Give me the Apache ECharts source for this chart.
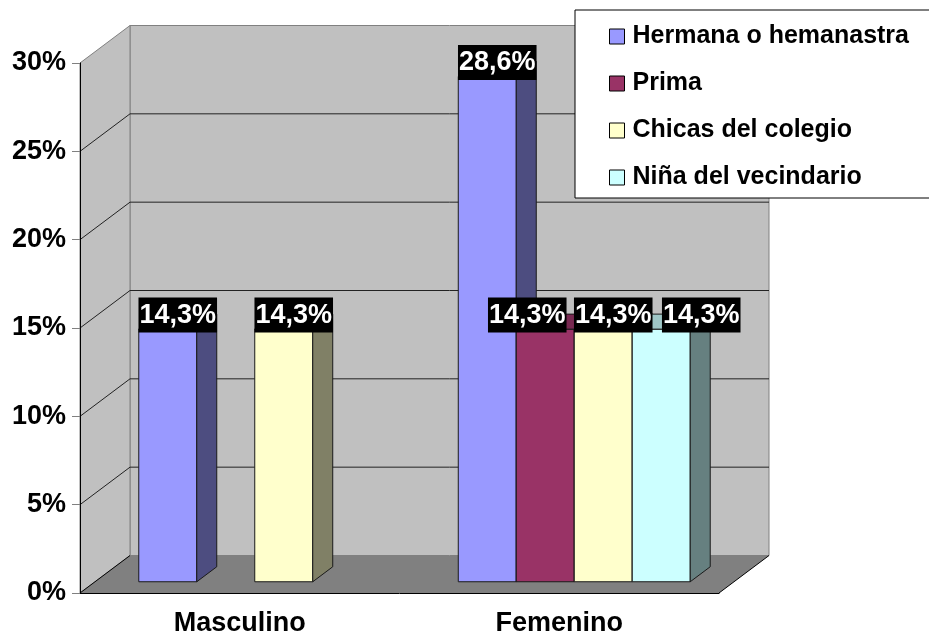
<!DOCTYPE html>
<html>
<head>
<meta charset="utf-8">
<script src="https://cdn.jsdelivr.net/npm/echarts@6/dist/echarts.min.js"></script>
<style>
html, body { margin: 0; padding: 0; background: #fff; }
#chart { width: 929px; height: 637px; }
</style>
</head>
<body>
<div id="chart"></div>
<script>
// data
const categories = ['Masculino', 'Femenino'];
const seriesNames = ['Hermana o hemanastra', 'Prima', 'Chicas del colegio', 'Niña del vecindario'];
const hermana = [14.3, 28.6];
const prima = [null, 14.3];
const chicas = [14.3, 14.3];
const nina = [null, 14.3];
const yTicks = [0, 5, 10, 15, 20, 25, 30];

const seriesValues = [hermana, prima, chicas, nina];
const colors = ['#9999FF', '#993366', '#FFFFCC', '#CCFFFF'];
const FONT = '"Liberation Sans", Arial, sans-serif';

// fake 3d: how far the back wall sits behind the axes (px)
const DEPTH_X = 50, DEPTH_Y = -37.5;
const BAR_D0 = 0.3, BAR_D1 = 0.7;   // bars in the middle of the depth
const BAR_FRAC = 0.1815;            // one bar, as share of the category band
// excel pushed a couple of labels sideways so they don't overlap
const labelNudge = { '1,1': -28, '3,1': 30 };

function shade(hex, k) {
  const n = parseInt(hex.slice(1), 16);
  const r = Math.round(((n >> 16) & 255) * k), g = Math.round(((n >> 8) & 255) * k), b = Math.round((n & 255) * k);
  return 'rgb(' + r + ',' + g + ',' + b + ')';
}

function fmt(v) {
  return v.toFixed(1).replace('.', ',') + '%';
}

function barGeom(si, api) {
  const ci = api.value(0), v = api.value(1);
  const base = api.coord([ci, 0]);
  const top = api.coord([ci, v]);
  const bw = api.size([1, 0])[0] * BAR_FRAC;
  const left = base[0] - 2 * bw + si * bw + DEPTH_X * BAR_D0;
  return {
    v, ci, left, bw,
    right: left + bw,
    yb: base[1] + DEPTH_Y * BAR_D0,
    yt: top[1] + DEPTH_Y * BAR_D0,
    ddx: DEPTH_X * (BAR_D1 - BAR_D0),
    ddy: DEPTH_Y * (BAR_D1 - BAR_D0)
  };
}

function renderBar(si) {
  return function (params, api) {
    const g = barGeom(si, api);
    if (isNaN(g.v)) return;
    const c = colors[si];
    const edge = { stroke: '#1a1a1a', lineWidth: 1 };
    return {
      type: 'group',
      children: [
        { type: 'rect', shape: { x: g.left, y: g.yt, width: g.bw, height: g.yb - g.yt },
          style: Object.assign({ fill: c }, edge) },
        { type: 'polygon', shape: { points: [[g.right, g.yb], [g.right + g.ddx, g.yb + g.ddy], [g.right + g.ddx, g.yt + g.ddy], [g.right, g.yt]] },
          style: Object.assign({ fill: shade(c, 0.5) }, edge) },
        { type: 'polygon', shape: { points: [[g.left, g.yt], [g.right, g.yt], [g.right + g.ddx, g.yt + g.ddy], [g.left + g.ddx, g.yt + g.ddy]] },
          style: Object.assign({ fill: shade(c, 0.78) }, edge) }
      ]
    };
  };
}

function renderLabel(si) {
  return function (params, api) {
    const g = barGeom(si, api);
    if (isNaN(g.v)) return;
    const nudge = labelNudge[si + ',' + g.ci] || 0;
    return {
      type: 'text',
      style: {
        text: fmt(g.v),
        x: g.left + (g.bw + g.ddx) / 2 + nudge,
        y: g.yt - 14,
        align: 'center',
        verticalAlign: 'middle',
        fill: '#fff',
        font: 'bold 27px ' + FONT,
        lineHeight: 33,
        backgroundColor: '#000',
        padding: [1, 1, 1, 1]
      }
    };
  };
}

function renderWalls(params, api) {
  const cs = params.coordSys;
  const x0 = cs.x, x1 = cs.x + cs.width;
  const y0 = api.coord([0, 0])[1], yTop = api.coord([0, yTicks[yTicks.length - 1]])[1];
  const bx0 = x0 + DEPTH_X, bx1 = x1 + DEPTH_X;
  const children = [
    { type: 'rect', shape: { x: bx0, y: yTop + DEPTH_Y, width: bx1 - bx0, height: y0 - yTop },
      style: { fill: '#C0C0C0', stroke: '#808080', lineWidth: 1 } },
    { type: 'polygon', shape: { points: [[x0, y0], [bx0, y0 + DEPTH_Y], [bx0, yTop + DEPTH_Y], [x0, yTop]] },
      style: { fill: '#C0C0C0', stroke: '#808080', lineWidth: 1 } },
    { type: 'polygon', shape: { points: [[x0, y0], [x1, y0], [bx1, y0 + DEPTH_Y], [bx0, y0 + DEPTH_Y]] },
      style: { fill: '#808080' } },
    { type: 'line', shape: { x1: x0, y1: y0, x2: bx0, y2: y0 + DEPTH_Y }, style: { stroke: '#000', lineWidth: 1 } },
    { type: 'line', shape: { x1: x1, y1: y0, x2: bx1, y2: y0 + DEPTH_Y }, style: { stroke: '#000', lineWidth: 1 } }
  ];
  yTicks.slice(1, -1).forEach(function (t) {
    const y = api.coord([0, t])[1];
    children.push({ type: 'line', shape: { x1: bx0, y1: y + DEPTH_Y, x2: bx1, y2: y + DEPTH_Y }, style: { stroke: '#222', lineWidth: 1 } });
    children.push({ type: 'line', shape: { x1: x0, y1: y, x2: bx0, y2: y + DEPTH_Y }, style: { stroke: '#222', lineWidth: 1 } });
  });
  return { type: 'group', children: children };
}

const chart = echarts.init(document.getElementById('chart'));

const series = [{
  type: 'custom',
  name: 'walls',
  silent: true,
  z: 1,
  renderItem: renderWalls,
  encode: { x: 0, y: 1 },
  data: [[0, 0]]
}];

seriesValues.forEach(function (vals, si) {
  const data = vals.map(function (v, ci) { return [ci, v]; }).filter(function (d) { return d[1] != null; });
  series.push({
    type: 'custom', name: seriesNames[si], z: 2,
    itemStyle: { color: colors[si] },
    renderItem: renderBar(si), encode: { x: 0, y: 1 }, data: data
  });
});
seriesValues.forEach(function (vals, si) {
  const data = vals.map(function (v, ci) { return [ci, v]; }).filter(function (d) { return d[1] != null; });
  series.push({
    type: 'custom', name: seriesNames[si], z: 3,
    itemStyle: { color: colors[si] },
    renderItem: renderLabel(si), encode: { x: 0, y: 1 }, data: data
  });
});

chart.setOption({
  animation: false,
  backgroundColor: '#fff',
  grid: { left: 80, right: 210, top: 63, bottom: 44 },
  legend: {
    data: seriesNames,
    orient: 'vertical',
    left: 575, top: 10,
    padding: [14, 70, 8, 34],
    itemGap: 22,
    itemWidth: 15, itemHeight: 15,
    icon: 'rect',
    backgroundColor: '#fff',
    borderColor: '#000',
    borderWidth: 1,
    itemStyle: { borderColor: '#000', borderWidth: 1 },
    textStyle: { fontFamily: FONT, fontSize: 25, fontWeight: 'bold', color: '#000', lineHeight: 25, padding: [0, 0, 0, 3] },
    selectedMode: false
  },
  xAxis: {
    type: 'category',
    data: categories,
    z: 10,
    axisLine: { lineStyle: { color: '#000', width: 1 } },
    axisTick: { length: 8, lineStyle: { color: '#808080' } },
    axisLabel: { margin: 17, fontFamily: FONT, fontSize: 27, fontWeight: 'bold', color: '#000' }
  },
  yAxis: {
    type: 'value',
    min: 0, max: 30, interval: 5,
    z: 10,
    axisLine: { show: true, lineStyle: { color: '#000', width: 1 } },
    axisTick: { show: true, length: 8, lineStyle: { color: '#808080' } },
    splitLine: { show: false },
    axisLabel: { margin: 14, formatter: '{value}%', fontFamily: FONT, fontSize: 27, fontWeight: 'bold', color: '#000' }
  },
  series: series
});
</script>
</body>
</html>
